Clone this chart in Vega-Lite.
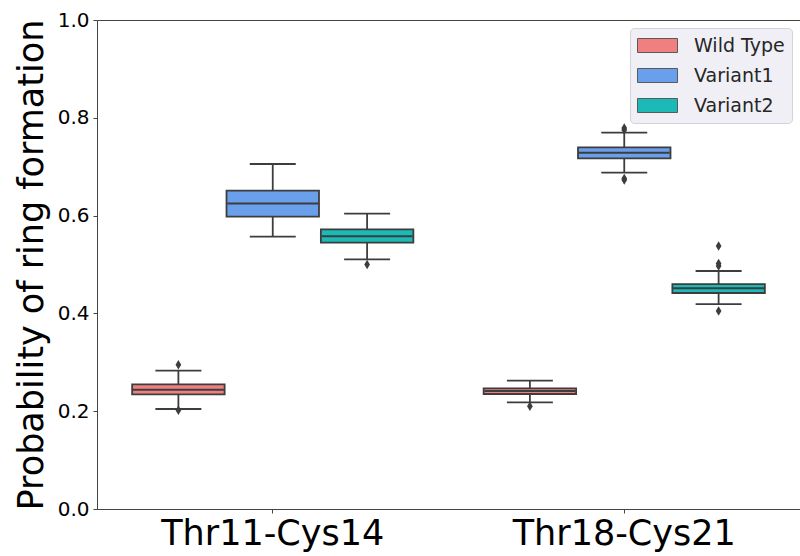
{
  "$schema": "https://vega.github.io/schema/vega-lite/v6.json",
  "width": 703,
  "height": 489,
  "autosize": {"type": "none"},
  "padding": {"left": 97, "top": 20, "right": 0, "bottom": 47},
  "background": "white",
  "config": {
    "font": "DejaVu Sans",
    "view": {"stroke": "#444444", "strokeWidth": 1}
  },
  "datasets": {
    "boxes": [
      {"site": "Thr11-Cys14", "type": "Wild Type", "lower": 0.2045, "q1": 0.2345, "median": 0.244, "q3": 0.255, "upper": 0.283},
      {"site": "Thr11-Cys14", "type": "Variant1", "lower": 0.557, "q1": 0.598, "median": 0.6245, "q3": 0.651, "upper": 0.7055},
      {"site": "Thr11-Cys14", "type": "Variant2", "lower": 0.5106, "q1": 0.5446, "median": 0.5577, "q3": 0.572, "upper": 0.604},
      {"site": "Thr18-Cys21", "type": "Wild Type", "lower": 0.2181, "q1": 0.2352, "median": 0.2413, "q3": 0.2468, "upper": 0.2624},
      {"site": "Thr18-Cys21", "type": "Variant1", "lower": 0.6878, "q1": 0.717, "median": 0.7287, "q3": 0.7396, "upper": 0.7696},
      {"site": "Thr18-Cys21", "type": "Variant2", "lower": 0.419, "q1": 0.4417, "median": 0.4513, "q3": 0.46, "upper": 0.4867}
    ],
    "outliers": [
      {"site": "Thr11-Cys14", "type": "Wild Type", "value": 0.295},
      {"site": "Thr11-Cys14", "type": "Wild Type", "value": 0.202},
      {"site": "Thr11-Cys14", "type": "Variant2", "value": 0.5},
      {"site": "Thr18-Cys21", "type": "Wild Type", "value": 0.21},
      {"site": "Thr18-Cys21", "type": "Variant1", "value": 0.779},
      {"site": "Thr18-Cys21", "type": "Variant1", "value": 0.775},
      {"site": "Thr18-Cys21", "type": "Variant1", "value": 0.676},
      {"site": "Thr18-Cys21", "type": "Variant1", "value": 0.673},
      {"site": "Thr18-Cys21", "type": "Variant2", "value": 0.538},
      {"site": "Thr18-Cys21", "type": "Variant2", "value": 0.502},
      {"site": "Thr18-Cys21", "type": "Variant2", "value": 0.497},
      {"site": "Thr18-Cys21", "type": "Variant2", "value": 0.405}
    ]
  },
  "encoding": {
    "x": {
      "field": "site", "type": "nominal",
      "sort": ["Thr11-Cys14", "Thr18-Cys21"],
      "scale": {"paddingInner": 0.2, "paddingOuter": 0.1},
      "axis": {
        "title": null, "labelAngle": 0, "labelFontSize": 35, "labelColor": "#000000", "labelLimit": 0,
        "labelPadding": 3, "tickSize": 4, "tickColor": "#444444", "domainColor": "#444444", "grid": false
      }
    },
    "xOffset": {
      "field": "type", "type": "nominal",
      "sort": ["Wild Type", "Variant1", "Variant2"],
      "scale": {"paddingInner": 0.02, "paddingOuter": 0}
    }
  },
  "layer": [
    {
      "data": {"name": "boxes"},
      "mark": {"type": "rule", "color": "#3d3d3d", "strokeWidth": 1.8},
      "encoding": {
        "y": {
          "field": "lower", "type": "quantitative",
          "scale": {"domain": [0, 1], "nice": false, "zero": false},
          "axis": {
            "title": "Probability of ring formation", "titleFontSize": 35, "titleFontWeight": "normal",
            "titleColor": "#000000", "titlePadding": 8,
            "values": [0, 0.2, 0.4, 0.6, 0.8, 1.0], "format": ".1f",
            "labelFontSize": 20, "labelColor": "#000000", "labelPadding": 4,
            "tickSize": 4, "tickColor": "#444444", "domainColor": "#444444", "grid": false
          }
        },
        "y2": {"field": "upper"}
      }
    },
    {
      "data": {"name": "boxes"},
      "mark": {"type": "tick", "color": "#3d3d3d", "thickness": 1.8, "size": 46, "opacity": 1},
      "encoding": {"y": {"field": "lower", "type": "quantitative"}}
    },
    {
      "data": {"name": "boxes"},
      "mark": {"type": "tick", "color": "#3d3d3d", "thickness": 1.8, "size": 46, "opacity": 1},
      "encoding": {"y": {"field": "upper", "type": "quantitative"}}
    },
    {
      "data": {"name": "boxes"},
      "mark": {"type": "bar", "stroke": "#3d3d3d", "strokeWidth": 1.8, "opacity": 1},
      "encoding": {
        "y": {"field": "q1", "type": "quantitative"},
        "y2": {"field": "q3"},
        "color": {
          "field": "type", "type": "nominal",
          "sort": ["Wild Type", "Variant1", "Variant2"],
          "scale": {"domain": ["Wild Type", "Variant1", "Variant2"], "range": ["#F08080", "#6A9FEB", "#1BBAB6"]},
          "legend": {
            "title": null, "orient": "top-right", "offset": 8,
            "fillColor": "#EFEFF5", "strokeColor": "#D2D2D8", "cornerRadius": 4, "padding": 7,
            "symbolType": "M-1,-0.7L3,-0.7L3,0.7L-1,0.7Z", "symbolSize": 400,
            "symbolStrokeColor": "#5a5a5a", "symbolStrokeWidth": 1, "symbolOpacity": 1,
            "labelFontSize": 19, "labelColor": "#262626", "labelOffset": 36, "rowPadding": 9
          }
        }
      }
    },
    {
      "data": {"name": "boxes"},
      "mark": {"type": "tick", "color": "#3d3d3d", "thickness": 2, "size": 91, "opacity": 1},
      "encoding": {"y": {"field": "median", "type": "quantitative"}}
    },
    {
      "data": {"name": "outliers"},
      "mark": {"type": "point", "shape": "M0,-1L0.6,0L0,1L-0.6,0Z", "filled": true, "color": "#3d3d3d", "size": 90, "opacity": 1},
      "encoding": {"y": {"field": "value", "type": "quantitative"}}
    }
  ]
}
